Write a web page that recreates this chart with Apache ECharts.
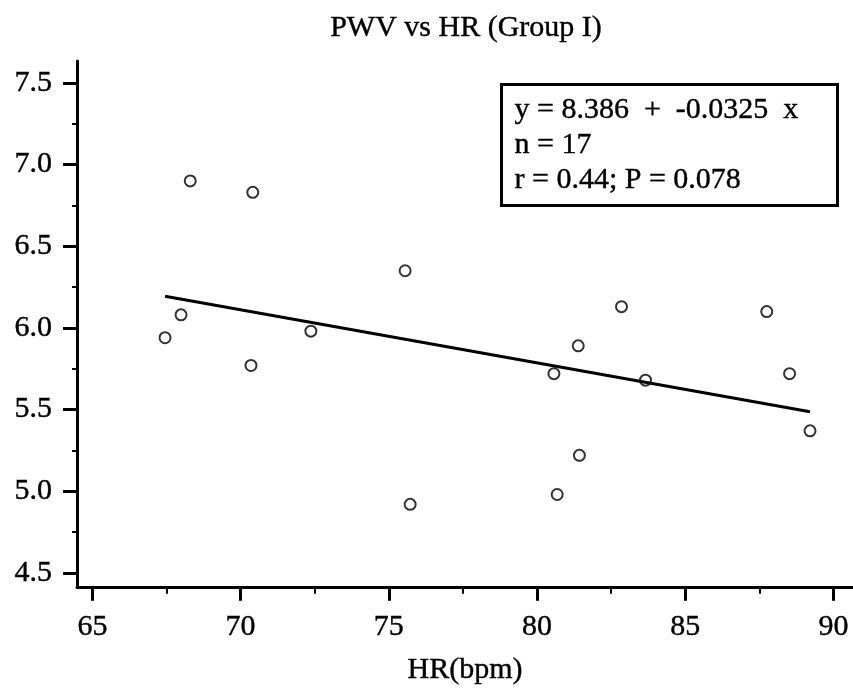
<!DOCTYPE html>
<html>
<head>
<meta charset="utf-8">
<script src="https://cdn.jsdelivr.net/npm/echarts@6/dist/echarts.min.js"></script>
<style>
  html, body { margin: 0; padding: 0; background: #fff; }
  #chart { width: 853px; height: 690px; }
</style>
</head>
<body>
<div id="chart"></div>
<script>
// Heart rate (bpm) and pulse wave velocity for each subject
const hr  = [68.30, 70.41, 75.55, 67.99, 67.45, 72.37, 70.35, 82.85, 81.39, 80.57, 83.66, 87.75, 88.52, 89.21, 81.43, 80.68, 75.72];
const pwv = [6.90, 6.83, 6.35, 6.08, 5.94, 5.98, 5.77, 6.13, 5.89, 5.72, 5.68, 6.10, 5.72, 5.37, 5.22, 4.98, 4.92];

// Fitted regression: PWV = intercept + slope * HR
const intercept = 8.386;
const slope = -0.0325;
const rValue = '0.44';
const pValue = '0.078';

// Axis ticks
const xMajorTicks = [65, 70, 75, 80, 85, 90];
const xMinorTicks = [67.5, 72.5, 77.5, 82.5, 87.5];
const yMajorTicks = [4.5, 5.0, 5.5, 6.0, 6.5, 7.0, 7.5];
const yMinorTicks = [4.75, 5.25, 5.75, 6.25, 6.75, 7.25];

const FONT = "'Liberation Serif', 'Times New Roman', serif";
const X_MIN = 64.48, X_MAX = 90.66;
const Y_MIN = 4.415, Y_MAX = 7.634;

// slight outline so the serif glyphs read a little heavier
const INK = { textBorderColor: '#000', textBorderWidth: 0.4 };

const points = hr.map((x, i) => [x, pwv[i]]);
const xLo = Math.min(...hr), xHi = Math.max(...hr);
const fitLine = [[xLo, intercept + slope * xLo], [xHi, intercept + slope * xHi]];

const chart = echarts.init(document.getElementById('chart'), null, { renderer: 'canvas' });

const baseX = { type: 'value', min: X_MIN, max: X_MAX, position: 'bottom', splitLine: { show: false } };
const baseY = { type: 'value', min: Y_MIN, max: Y_MAX, position: 'left', splitLine: { show: false } };

chart.setOption({
  animation: false,
  backgroundColor: '#fff',
  title: {
    text: 'PWV vs HR (Group I)',
    left: 461,
    top: 8,
    textAlign: 'center',
    textStyle: Object.assign({ fontFamily: FONT, fontSize: 30, fontWeight: 'normal', color: '#000' }, INK)
  },
  grid: { left: 77, right: 0, top: 61, bottom: 102, containLabel: false },
  xAxis: [
    Object.assign({}, baseX, {
      name: 'HR(bpm)',
      nameLocation: 'middle',
      nameGap: 68,
      nameTextStyle: Object.assign({ fontFamily: FONT, fontSize: 30, color: '#000' }, INK),
      axisLine: { show: true, onZero: false, lineStyle: { color: '#000', width: 3 } },
      axisTick: { show: true, inside: false, length: 14, customValues: xMajorTicks, lineStyle: { color: '#000', width: 3 } },
      axisLabel: Object.assign({ show: true, margin: 25, customValues: xMajorTicks, fontFamily: FONT, fontSize: 30, color: '#000' }, INK)
    }),
    Object.assign({}, baseX, {
      axisLine: { show: false, onZero: false },
      axisTick: { show: true, inside: false, length: 7, customValues: xMinorTicks, lineStyle: { color: '#000', width: 2 } },
      axisLabel: { show: false }
    })
  ],
  yAxis: [
    Object.assign({}, baseY, {
      axisLine: { show: true, onZero: false, lineStyle: { color: '#000', width: 3 } },
      axisTick: { show: true, inside: false, length: 14, customValues: yMajorTicks, lineStyle: { color: '#000', width: 3 } },
      axisLabel: Object.assign({
        show: true, margin: 25, customValues: yMajorTicks,
        formatter: v => Number(v).toFixed(1),
        fontFamily: FONT, fontSize: 30, color: '#000'
      }, INK)
    }),
    Object.assign({}, baseY, {
      axisLine: { show: false, onZero: false },
      axisTick: { show: true, inside: false, length: 5, customValues: yMinorTicks, lineStyle: { color: '#000', width: 2 } },
      axisLabel: { show: false }
    })
  ],
  series: [
    {
      name: 'fit',
      type: 'line',
      data: fitLine,
      xAxisIndex: 0, yAxisIndex: 0,
      showSymbol: false,
      lineStyle: { color: '#000', width: 3 },
      z: 2
    },
    {
      name: 'subjects',
      type: 'scatter',
      data: points,
      xAxisIndex: 0, yAxisIndex: 0,
      symbol: 'circle',
      symbolSize: 11,
      itemStyle: { color: 'rgba(0,0,0,0)', borderColor: '#000', borderWidth: 2 },
      z: 3
    }
  ],
  graphic: [
    {
      type: 'group',
      left: 500,
      top: 83,
      children: [
        {
          type: 'rect',
          shape: { x: 0, y: 0, width: 336, height: 121 },
          style: { fill: '#fff', stroke: '#000', lineWidth: 3 }
        },
        {
          type: 'text', x: 13, y: 26,
          style: Object.assign({
            text: 'y = ' + intercept.toFixed(3) + '  +  ' + slope.toFixed(4) + '  x',
            font: '30px ' + FONT, fill: '#000', verticalAlign: 'middle', align: 'left'
          }, { stroke: '#000', lineWidth: 0.4 })
        },
        {
          type: 'text', x: 13, y: 61,
          style: Object.assign({
            text: 'n = ' + hr.length,
            font: '30px ' + FONT, fill: '#000', verticalAlign: 'middle', align: 'left'
          }, { stroke: '#000', lineWidth: 0.4 })
        },
        {
          type: 'text', x: 13, y: 96,
          style: Object.assign({
            text: 'r = ' + rValue + '; P = ' + pValue,
            font: '30px ' + FONT, fill: '#000', verticalAlign: 'middle', align: 'left'
          }, { stroke: '#000', lineWidth: 0.4 })
        }
      ]
    }
  ]
});
</script>
</body>
</html>
